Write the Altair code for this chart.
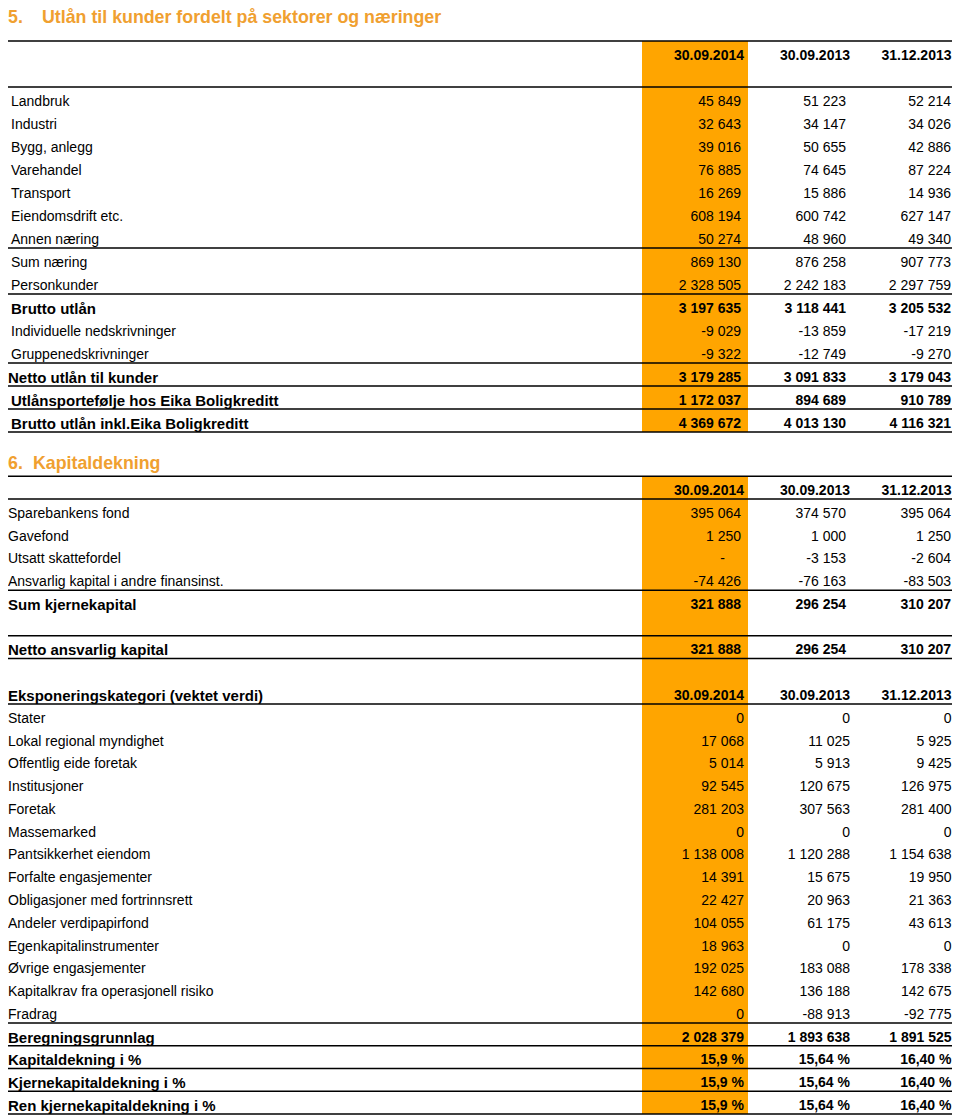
import altair as alt
import pandas as pd

# ------------------------------------------------------------------ data
periods = ["30.09.2014", "30.09.2013", "31.12.2013"]

title5_no = "5."
title5_text = "Utlån til kunder fordelt på sektorer og næringer"
labels5 = ["Landbruk", "Industri", "Bygg, anlegg", "Varehandel", "Transport",
           "Eiendomsdrift etc.", "Annen næring", "Sum næring", "Personkunder",
           "Brutto utlån", "Individuelle nedskrivninger", "Gruppenedskrivninger",
           "Netto utlån til kunder", "Utlånsportefølje hos Eika Boligkreditt",
           "Brutto utlån inkl.Eika Boligkreditt"]
s5_2014q3 = [45849, 32643, 39016, 76885, 16269, 608194, 50274, 869130, 2328505,
             3197635, -9029, -9322, 3179285, 1172037, 4369672]
s5_2013q3 = [51223, 34147, 50655, 74645, 15886, 600742, 48960, 876258, 2242183,
             3118441, -13859, -12749, 3091833, 894689, 4013130]
s5_2013ye = [52214, 34026, 42886, 87224, 14936, 627147, 49340, 907773, 2297759,
             3205532, -17219, -9270, 3179043, 910789, 4116321]
bold5 = ["Brutto utlån", "Netto utlån til kunder",
         "Utlånsportefølje hos Eika Boligkreditt",
         "Brutto utlån inkl.Eika Boligkreditt"]

title6_no = "6."
title6_text = "Kapitaldekning"
labels6a = ["Sparebankens fond", "Gavefond", "Utsatt skattefordel",
            "Ansvarlig kapital i andre finansinst.", "Sum kjernekapital",
            "Netto ansvarlig kapital"]
s6a_2014q3 = [395064, 1250, None, -74426, 321888, 321888]
s6a_2013q3 = [374570, 1000, -3153, -76163, 296254, 296254]
s6a_2013ye = [395064, 1250, -2604, -83503, 310207, 310207]

exp_header = "Eksponeringskategori (vektet verdi)"
labels6b = ["Stater", "Lokal regional myndighet", "Offentlig eide foretak",
            "Institusjoner", "Foretak", "Massemarked", "Pantsikkerhet eiendom",
            "Forfalte engasjementer", "Obligasjoner med fortrinnsrett",
            "Andeler verdipapirfond", "Egenkapitalinstrumenter",
            "Øvrige engasjementer", "Kapitalkrav fra operasjonell risiko",
            "Fradrag", "Beregningsgrunnlag"]
s6b_2014q3 = [0, 17068, 5014, 92545, 281203, 0, 1138008, 14391, 22427, 104055,
              18963, 192025, 142680, 0, 2028379]
s6b_2013q3 = [0, 11025, 5913, 120675, 307563, 0, 1120288, 15675, 20963, 61175,
              0, 183088, 136188, -88913, 1893638]
s6b_2013ye = [0, 5925, 9425, 126975, 281400, 0, 1154638, 19950, 21363, 43613,
              0, 178338, 142675, -92775, 1891525]

labels6c = ["Kapitaldekning i %", "Kjernekapitaldekning i %",
            "Ren kjernekapitaldekning i %"]
s6c_2014q3 = [15.9, 15.9, 15.9]
s6c_2013q3 = [15.64, 15.64, 15.64]
s6c_2013ye = [16.40, 16.40, 16.40]
pct_decimals = [1, 2, 2]

bold6 = ["Sum kjernekapital", "Netto ansvarlig kapital", exp_header,
         "Beregningsgrunnlag"] + labels6c

# ------------------------------------------------------------------ styling
FONT = "Liberation Sans"
ORANGE = "#FFA500"
TITLE_ORANGE = "#F0A030"
W, H = 944, 1110
HDR = "#hdr"
B_DX = {1: 3, 2: 4, 3: 0.5}   # right-edge shift of the wider-set columns


def fmt_int(v):
    return "-" if v is None else f"{v:,}".replace(",", " ")


def fmt_pct(v, d):
    return f"{v:.{d}f}".replace(".", ",") + " %"


# ------------------------------------------------------------------ tables
def build(order, values, bold, group_b, hdr_labels):
    """order: list of row keys (None = blank row). values: key -> 3 strings"""
    lab_rows, val_rows = [], []
    for slot, key in enumerate(order):
        if key is None:
            continue
        if key in hdr_labels:
            txt = hdr_labels[key]
            if txt:
                lab_rows.append(dict(slot=slot, label=txt, bold=True))
            for c, p in enumerate(periods, start=1):
                val_rows.append(dict(slot=slot, col=c, txt=p, bold=True,
                                     grp="B", dash=False))
            continue
        lab_rows.append(dict(slot=slot, label=key, bold=key in bold))
        for c, t in enumerate(values[key], start=1):
            val_rows.append(dict(slot=slot, col=c, txt=t, bold=key in bold,
                                 grp="B" if key in group_b else "A",
                                 dash=(t == "-")))
    return pd.DataFrame(lab_rows), pd.DataFrame(val_rows)


# section 5
order5 = [HDR, None] + labels5
vals5 = {k: [fmt_int(a), fmt_int(b), fmt_int(c)]
         for k, a, b, c in zip(labels5, s5_2014q3, s5_2013q3, s5_2013ye)}
lab5, val5 = build(order5, vals5, bold5, [], {HDR: ""})
rules5 = [(HDR, "above"), ("Landbruk", "above"), ("Annen næring", "below"),
          ("Personkunder", "below"), ("Gruppenedskrivninger", "below"),
          ("Netto utlån til kunder", "below"),
          ("Utlånsportefølje hos Eika Boligkreditt", "below"),
          ("Brutto utlån inkl.Eika Boligkreditt", "below")]

# section 6
EXP = "#exp"
order6 = [HDR] + labels6a[:5] + [None, labels6a[5], None, EXP] + labels6b + labels6c
vals6 = {k: [fmt_int(a), fmt_int(b), fmt_int(c)]
         for k, a, b, c in zip(labels6a, s6a_2014q3, s6a_2013q3, s6a_2013ye)}
vals6.update({k: [fmt_int(a), fmt_int(b), fmt_int(c)]
              for k, a, b, c in zip(labels6b, s6b_2014q3, s6b_2013q3, s6b_2013ye)})
vals6.update({k: [fmt_pct(a, pct_decimals[0]), fmt_pct(b, pct_decimals[1]),
                  fmt_pct(c, pct_decimals[2])]
              for k, a, b, c in zip(labels6c, s6c_2014q3, s6c_2013q3, s6c_2013ye)})
lab6, val6 = build(order6, vals6, bold6, labels6b + labels6c,
                   {HDR: "", EXP: exp_header})
rules6 = [(HDR, "above"), (HDR, "below"),
          ("Ansvarlig kapital i andre finansinst.", "below"),
          ("Netto ansvarlig kapital", "above"), ("Netto ansvarlig kapital", "below"),
          (EXP, "below"), ("Fradrag", "below"), ("Beregningsgrunnlag", "below")] + \
         [(k, "below") for k in labels6c]

xs = alt.Scale(domain=[1, 3], range=[733, 943], nice=False, zero=False)


def section(order, lab, val, rules, ys, title_no, title_text, title_slot,
            title_x, label_x, outdent):
    slot_of = {k: i for i, k in enumerate(order) if k is not None}
    ry = [slot_of[k] + (0.44 if side == "below" else -0.56) for k, side in rules]
    rules_df = pd.DataFrame({"ry": ry})
    band_df = pd.DataFrame({"y0": [min(ry)], "y1": [max(ry)]})
    Y = lambda f: alt.Y(f, scale=ys, axis=None)

    band = alt.Chart(band_df).mark_rect(color=ORANGE).encode(
        x=alt.value(634), x2=alt.value(740), y=Y("y0:Q"), y2="y1:Q")
    rule = alt.Chart(rules_df).mark_rule(color="#000", strokeWidth=1.5).encode(
        x=alt.value(0), x2=alt.value(W), y=Y("ry:Q"))

    layers = [band, rule]
    tkw = dict(baseline="middle", dy=2, font=FONT, color="#000")
    for b in (False, True):
        fw = "bold" if b else "normal"
        lfs = 15 if b else 14
        sub = lab[(lab.bold == b) & (~lab.label.isin(outdent))]
        if len(sub):
            layers.append(alt.Chart(sub).mark_text(
                align="left", fontWeight=fw, fontSize=lfs, **tkw
            ).encode(x=alt.value(label_x), y=Y("slot:Q"), text="label:N"))
        sub = lab[(lab.bold == b) & (lab.label.isin(outdent))]
        if len(sub):
            layers.append(alt.Chart(sub).mark_text(
                align="left", fontWeight=fw, fontSize=lfs, **tkw
            ).encode(x=alt.value(0), y=Y("slot:Q"), text="label:N"))
        # ordinary columns
        for d in (False, True):
            sub = val[(val.bold == b) & (val.grp == "A") & (val.dash == d)]
            if len(sub):
                layers.append(alt.Chart(sub).mark_text(
                    align="right", dx=-16 if d else 0, fontWeight=fw,
                    fontSize=14, **tkw
                ).encode(x=alt.X("col:Q", scale=xs, axis=None),
                         y=Y("slot:Q"), text="txt:N"))
        # wider-set columns (headers and exposure block)
        for c, dx in B_DX.items():
            sub = val[(val.bold == b) & (val.grp == "B") & (val.col == c)]
            if len(sub):
                layers.append(alt.Chart(sub).mark_text(
                    align="right", dx=dx, fontWeight=fw, fontSize=14, **tkw
                ).encode(x=alt.X("col:Q", scale=xs, axis=None),
                         y=Y("slot:Q"), text="txt:N"))
    tdf = pd.DataFrame({"slot": [title_slot], "a": [title_no], "b": [title_text]})
    tkw2 = dict(baseline="top", fontSize=17.8, font=FONT, fontWeight="bold",
                color=TITLE_ORANGE, align="left")
    layers.append(alt.Chart(tdf).mark_text(**tkw2).encode(
        x=alt.value(0), y=Y("slot:Q"), text="a:N"))
    layers.append(alt.Chart(tdf).mark_text(**tkw2).encode(
        x=alt.value(title_x), y=Y("slot:Q"), text="b:N"))
    return alt.layer(*layers)


ys5 = alt.Scale(domain=[0, 16], range=[46, 414], nice=False, zero=False)
ys6 = alt.Scale(domain=[0, 27], range=[481, 1096], nice=False, zero=False)

sec5 = section(order5, lab5, val5, rules5, ys5, title5_no, title5_text, -1.95,
               34, 3, ["Netto utlån til kunder"])
sec6 = section(order6, lab6, val6, rules6, ys6, title6_no, title6_text, -1.49,
               25, 0, [])

chart = alt.layer(sec5, sec6).resolve_scale(y="independent").properties(
    width=W, height=H, padding=0,
    autosize=alt.AutoSizeParams(type="none")
).configure_view(stroke=None)

chart.save("out.html", embed_options={"renderer": "svg", "actions": False})
